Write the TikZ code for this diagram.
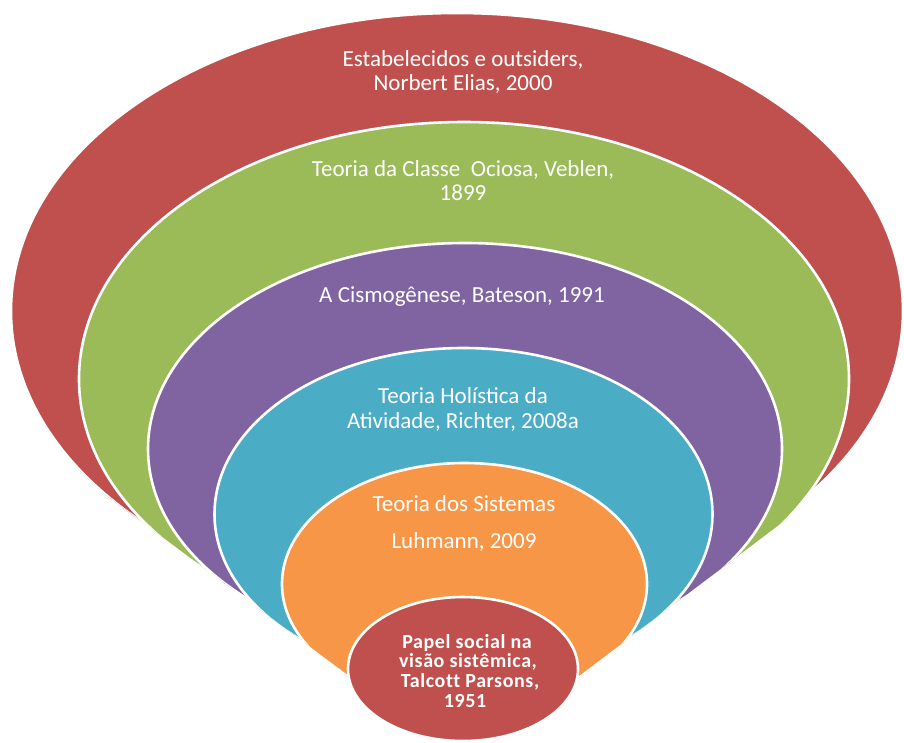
\documentclass[tikz,border=0pt]{standalone}
\usepackage{fontspec}
\setmainfont{Carlito}
\newfontfamily\smallfam[LetterSpace=3,Ligatures=NoCommon]{Carlito}
\definecolor{cRed}{HTML}{C0504D}
\definecolor{cGreen}{HTML}{9BBB59}
\definecolor{cPurple}{HTML}{8064A2}
\definecolor{cAqua}{HTML}{4BACC6}
\definecolor{cOrange}{HTML}{F79646}
\tikzset{
  band/.style={draw=white, line width=2.6pt},
  lbl/.style={anchor=base, inner sep=0pt, text=white, font=\fontsize{23}{25}\selectfont},
  smalllbl/.style={anchor=base, inner sep=0pt, text=white, font=\smallfam\fontsize{20}{20}\selectfont\bfseries},
}
\begin{document}
\begin{tikzpicture}[x=1pt,y=-1pt]
\useasboundingbox (0,0) rectangle (904,742);
\begin{scope}
  \clip (-10,409) -- (465,762) -- (914,423) -- (914,-10) -- (-10,-10) -- cycle;
  \filldraw[band, fill=cRed]    (457,311) ellipse [x radius=446pt, y radius=298pt];
  \filldraw[band, fill=cGreen]  (464,379) ellipse [x radius=385pt, y radius=257pt];
  \filldraw[band, fill=cPurple] (465,449) ellipse [x radius=317pt, y radius=206pt];
  \filldraw[band, fill=cAqua]   (463.5,514) ellipse [x radius=249pt, y radius=166pt];
  \filldraw[band, fill=cOrange] (464.5,584) ellipse [x radius=182.5pt, y radius=121pt];
\end{scope}
\filldraw[band, fill=cRed] (463,669) ellipse [x radius=115pt, y radius=72pt];

\node[lbl] (r1) at (463,66) {Estabelecidos e outsiders,};
\node[lbl] (r2) at (463,90) {Norbert Elias, 2000};
\node[lbl] (g1) at (463,176) {Teoria da Classe\ \ Ociosa, Veblen,};
\node[lbl] (g2) at (463,200) {1899};
\node[lbl] (p1) at (462,302) {A Cismogênese, Bateson, 1991};
\node[lbl] (b1) at (463,403) {Teoria Holística da};
\node[lbl] (b2) at (463,428) {Atividade, Richter, 2008a};
\node[lbl] (o1) at (464,511) {Teoria dos Sistemas};
\node[lbl] (o2) at (464,548) {Luhmann, 2009};
\node[smalllbl] (s1) at (467,648) {Papel social na};
\node[smalllbl] (s2) at (468,667) {visão sistêmica,};
\node[smalllbl] (s3) at (470,687) {Talcott Parsons,};
\node[smalllbl] (s4) at (465,707) {1951};
\end{tikzpicture}
\end{document}
